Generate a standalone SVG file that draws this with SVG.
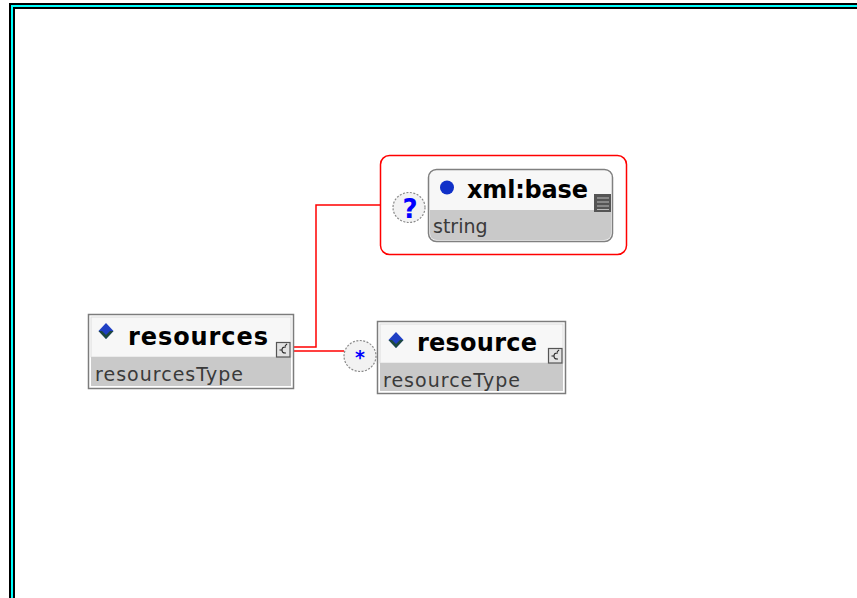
<svg xmlns="http://www.w3.org/2000/svg" width="857" height="598" viewBox="0 0 857 598">
<defs>
<style>
.title{font-family:"DejaVu Sans",Verdana,sans-serif;font-weight:bold;font-size:24px;fill:#000}
.type{font-family:"DejaVu Sans",Verdana,sans-serif;font-size:19px;fill:#3a3a3a}
.outer{fill:#ffffff;stroke:#7c7c7c;stroke-width:1.5}
.top{fill:#f7f7f7;stroke:#dedede;stroke-width:1}
.band{fill:#c9c9c9}
.conn{fill:none;stroke:#ff0000;stroke-width:1.5}
.card{fill:#f2f2f2;stroke:#8a8a8a;stroke-width:1.2;stroke-dasharray:2 1.5}
.cardtxt{font-family:"DejaVu Sans",Verdana,sans-serif;font-weight:bold;fill:#0000ff;text-anchor:middle}
.ticon{fill:#e2e2e2;stroke:#555;stroke-width:1.2}
.tglyph{fill:none;stroke:#222;stroke-width:1.1}
.dia{fill:#1f3fc4}
.diash{fill:#1d4a24;opacity:0.85}
</style>
</defs>

<!-- frame -->
<g id="frame" fill="none" stroke-width="2">
<path d="M10,598 V4 H857" stroke="#000"/>
<path d="M12,598 V6 H857" stroke="#00ffff"/>
<path d="M14,598 V8 H857" stroke="#000"/>
</g>

<!-- connectors -->
<g id="connectors">
<path class="conn" d="M294,347 H316 V205 H380"/>
<path class="conn" d="M294,351 H344"/>
<line x1="425" y1="207" x2="429" y2="207" stroke="#8a8a8a" stroke-width="1.2"/>
</g>

<!-- sequence group (optional attribute) -->
<g id="group-xmlbase">
<rect x="380.5" y="155.5" width="246" height="99" rx="9" fill="#ffffff" stroke="#ff0000" stroke-width="1.5"/>
</g>

<!-- optional cardinality -->
<g id="card-optional">
<ellipse class="card" cx="409" cy="207.5" rx="16" ry="15"/>
<text class="cardtxt" x="410" y="217.5" font-size="26">?</text>
</g>

<!-- xml:base attribute -->
<g id="node-xmlbase">
<rect x="428.5" y="169.5" width="184" height="72" rx="8" fill="#f7f7f7" stroke="#808080" stroke-width="1.5"/>
<path class="band" d="M430,210 H611 V233 Q611,240 604,240 H437 Q430,240 430,233 Z"/>
<circle cx="447" cy="187.5" r="7" fill="#1030c8"/>
<text class="title" x="467" y="198" textLength="121" lengthAdjust="spacing">xml:base</text>
<rect x="594" y="194" width="17" height="18" fill="#555"/>
<path d="M597,198 H609 M597,202 H609 M597,206 H609 M597,209.5 H609" stroke="#bbb" stroke-width="1.2"/>
<text class="type" x="433" y="233">string</text>
</g>

<!-- resources element -->
<g id="node-resources">
<rect class="outer" x="88.5" y="314.5" width="205" height="74"/>
<rect class="top" x="91" y="317" width="200" height="40"/>
<rect class="band" x="91" y="357" width="200" height="29"/>
<polygon class="dia" points="106,323 113.5,331 106,339 98.5,331"/>
<polygon class="diash" points="106,339 113.5,331 110,331 106,335 102,331 98.5,331"/>
<text class="title" x="128" y="345" textLength="140" lengthAdjust="spacing">resources</text>
<rect class="ticon" x="276.5" y="342.5" width="13.5" height="14.5"/>
<path class="tglyph" d="M286,347 Q282,346.5 282,350 Q282,353.5 286,353 M279.5,350 H282 M285,346 L287,343.8"/>
<text class="type" x="95" y="381" textLength="148" lengthAdjust="spacing">resourcesType</text>
</g>

<!-- zero-or-more cardinality -->
<g id="card-many">
<ellipse class="card" cx="360" cy="356" rx="16" ry="15.5"/>
<text class="cardtxt" x="360" y="364" font-size="19">*</text>
</g>

<!-- resource element -->
<g id="node-resource">
<rect class="outer" x="377.5" y="321.5" width="188" height="72"/>
<rect class="top" x="380" y="324" width="183" height="39"/>
<rect class="band" x="380" y="363" width="183" height="28"/>
<polygon class="dia" points="396,332 403.5,340 396,348 388.5,340"/>
<polygon class="diash" points="396,348 403.5,340 400,340 396,344 392,340 388.5,340"/>
<text class="title" x="417" y="351" textLength="120" lengthAdjust="spacing">resource</text>
<rect class="ticon" x="548.5" y="348.5" width="13.5" height="14.5"/>
<path class="tglyph" d="M558,353 Q554,352.5 554,356 Q554,359.5 558,359 M551.5,356 H554 M557,352 L559,349.8"/>
<text class="type" x="383" y="387" textLength="137" lengthAdjust="spacing">resourceType</text>
</g>
</svg>
